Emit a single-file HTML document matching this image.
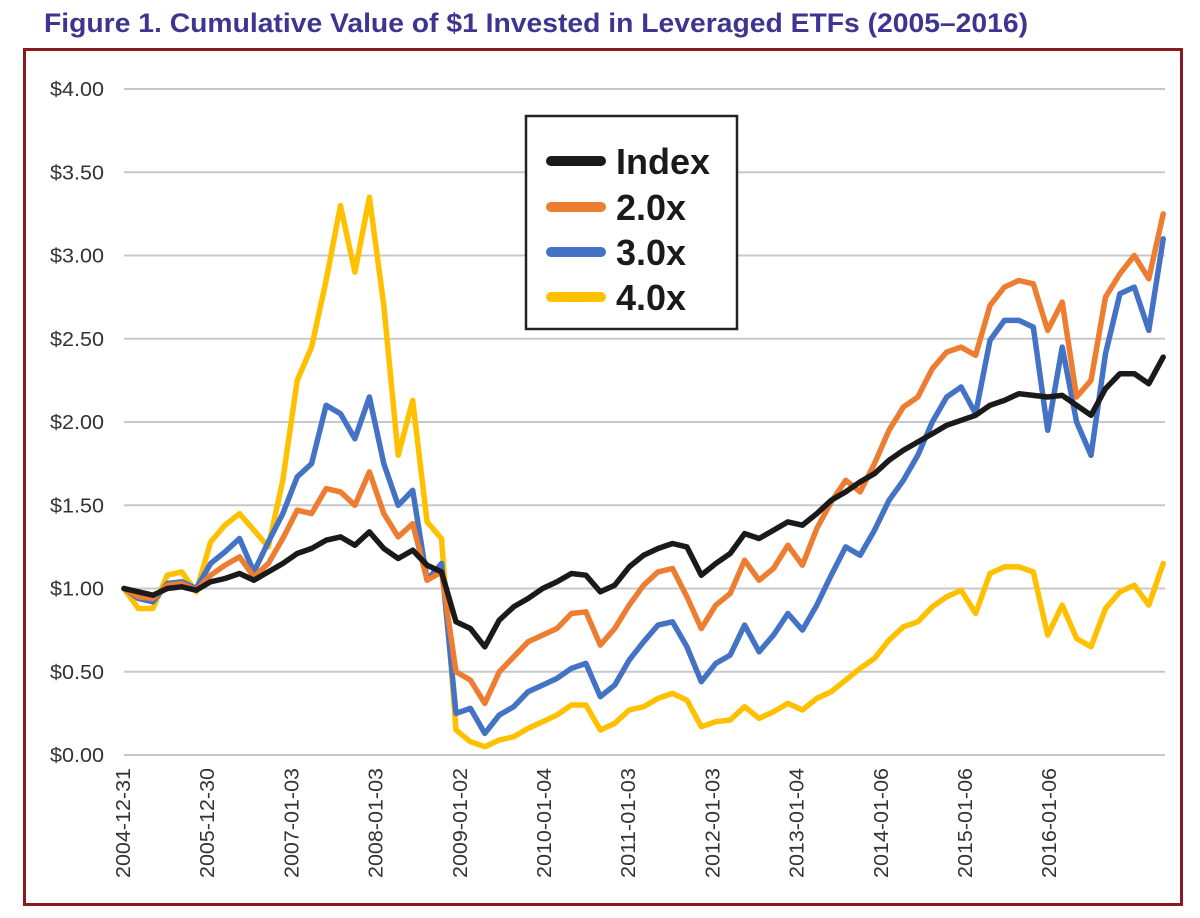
<!DOCTYPE html>
<html><head><meta charset="utf-8"><style>
html,body{margin:0;padding:0;background:#fff;}
svg{display:block;}
</style></head><body>
<svg id="chart" width="1200" height="918" viewBox="0 0 1200 918" xmlns="http://www.w3.org/2000/svg">
<text x="44" y="32" font-family="Liberation Sans Narrow, Liberation Sans, sans-serif" font-weight="bold" font-size="27" fill="#3d3590" textLength="984" lengthAdjust="spacingAndGlyphs">Figure 1. Cumulative Value of $1 Invested in Leveraged ETFs (2005–2016)</text>
<rect x="24.5" y="49.5" width="1157" height="855" fill="none" stroke="#8b1a1f" stroke-width="3"/>
<g id="grid"></g><g id="yticks"></g><g id="xticks"></g><g id="series"></g>
<g>
<rect x="526" y="116" width="211" height="213" fill="#fff" stroke="#222" stroke-width="2.5"/>
<g><line x1="551" y1="161" x2="601" y2="161" stroke="#1a1a1a" stroke-width="10" stroke-linecap="round"/><text x="616" y="174" font-family="Liberation Sans, sans-serif" font-weight="bold" font-size="36" fill="#1a1a1a">Index</text></g>
<g><line x1="551" y1="207" x2="601" y2="207" stroke="#ed7d31" stroke-width="10" stroke-linecap="round"/><text x="616" y="220" font-family="Liberation Sans, sans-serif" font-weight="bold" font-size="36" fill="#1a1a1a">2.0x</text></g>
<g><line x1="551" y1="252" x2="601" y2="252" stroke="#4472c4" stroke-width="10" stroke-linecap="round"/><text x="616" y="265" font-family="Liberation Sans, sans-serif" font-weight="bold" font-size="36" fill="#1a1a1a">3.0x</text></g>
<g><line x1="551" y1="297" x2="601" y2="297" stroke="#ffc000" stroke-width="10" stroke-linecap="round"/><text x="616" y="310" font-family="Liberation Sans, sans-serif" font-weight="bold" font-size="36" fill="#1a1a1a">4.0x</text></g>
</g>
</svg>
<script>
const startYear = 2005;
const stepYears = 1/6;
const yTicks = [0, 0.5, 1, 1.5, 2, 2.5, 3, 3.5, 4];
const yTickLabels = ["$0.00","$0.50","$1.00","$1.50","$2.00","$2.50","$3.00","$3.50","$4.00"];
const xTickLabels = ["2004-12-31","2005-12-30","2007-01-03","2008-01-03","2009-01-02","2010-01-04","2011-01-03","2012-01-03","2013-01-04","2014-01-06","2015-01-06","2016-01-06"];
const xTickYears = [2005.0,2006.0,2007.0,2008.0,2009.0,2010.0,2011.0,2012.0,2013.0,2014.0,2015.0,2016.0];
const indexValues = [1.00,0.98,0.96,1.00,1.01,0.99,1.04,1.06,1.09,1.05,1.10,1.15,1.21,1.24,1.29,1.31,1.26,1.34,1.24,1.18,1.23,1.14,1.10,0.80,0.76,0.65,0.81,0.89,0.94,1.00,1.04,1.09,1.08,0.98,1.02,1.13,1.20,1.24,1.27,1.25,1.08,1.15,1.21,1.33,1.30,1.35,1.40,1.38,1.45,1.53,1.58,1.64,1.69,1.77,1.83,1.88,1.93,1.98,2.01,2.04,2.10,2.13,2.17,2.16,2.15,2.16,2.10,2.04,2.20,2.29,2.29,2.23,2.39];
const lev2Values = [1.00,0.95,0.94,1.02,1.03,0.99,1.08,1.14,1.19,1.07,1.15,1.30,1.47,1.45,1.60,1.58,1.50,1.70,1.45,1.31,1.39,1.05,1.10,0.50,0.45,0.31,0.50,0.59,0.68,0.72,0.76,0.85,0.86,0.66,0.76,0.90,1.02,1.10,1.12,0.95,0.76,0.90,0.97,1.17,1.05,1.12,1.26,1.14,1.36,1.52,1.65,1.58,1.75,1.95,2.09,2.15,2.32,2.42,2.45,2.40,2.70,2.81,2.85,2.83,2.55,2.72,2.15,2.25,2.75,2.89,3.00,2.86,3.25];
const lev3Values = [1.00,0.94,0.92,1.03,1.04,1.00,1.15,1.22,1.30,1.10,1.28,1.45,1.67,1.75,2.10,2.05,1.90,2.15,1.75,1.50,1.59,1.05,1.15,0.25,0.28,0.13,0.24,0.29,0.38,0.42,0.46,0.52,0.55,0.35,0.42,0.57,0.68,0.78,0.80,0.65,0.44,0.55,0.60,0.78,0.62,0.72,0.85,0.75,0.90,1.08,1.25,1.20,1.35,1.53,1.65,1.80,2.00,2.15,2.21,2.05,2.49,2.61,2.61,2.57,1.95,2.45,2.00,1.80,2.41,2.77,2.81,2.55,3.10];
const lev4Values = [1.00,0.88,0.88,1.08,1.10,0.98,1.28,1.38,1.45,1.35,1.25,1.65,2.25,2.45,2.85,3.30,2.90,3.35,2.70,1.80,2.13,1.40,1.30,0.15,0.08,0.05,0.09,0.11,0.16,0.20,0.24,0.30,0.30,0.15,0.19,0.27,0.29,0.34,0.37,0.33,0.17,0.20,0.21,0.29,0.22,0.26,0.31,0.27,0.34,0.38,0.45,0.52,0.58,0.69,0.77,0.80,0.89,0.95,0.99,0.85,1.09,1.13,1.13,1.10,0.72,0.90,0.70,0.65,0.88,0.98,1.02,0.90,1.15];

const NS = "http://www.w3.org/2000/svg";
const plotLeft = 124, plotRight = 1165;
function yScale(v){ return 755 - v * 166.5; }
function xScale(t){ return 124 + (t - startYear) * 86.6; }
function mk(tag, attrs, parent){ const e = document.createElementNS(NS, tag); for (const k in attrs) e.setAttribute(k, attrs[k]); parent.appendChild(e); return e; }

const grid = document.getElementById('grid');
const yt = document.getElementById('yticks');
yTicks.forEach((v, i) => {
  const ln = mk('line', {x1: plotLeft, x2: plotRight, y1: yScale(v), y2: yScale(v), stroke: '#c8c8c8', 'stroke-width': 2}, grid);
  
  
  const tx = mk('text', {x: 104, y: yScale(v) + 7, 'text-anchor': 'end', 'font-family': 'Liberation Sans Narrow, Liberation Sans, sans-serif', 'font-size': 20, fill: '#333', textLength: 54, lengthAdjust: 'spacingAndGlyphs'}, yt);
  tx.textContent = yTickLabels[i];
  
  
});
const xt = document.getElementById('xticks');
xTickLabels.forEach((lab, i) => {
  const x = 124 + (xTickYears[i] - 2005) * 84.2 + 6;
  const tx = mk('text', {x: 0, y: 0, 'text-anchor': 'end', transform: 'translate(' + x + ',768) rotate(-90)', 'font-family': 'Liberation Sans Narrow, Liberation Sans, sans-serif', 'font-size': 20, fill: '#333', textLength: 110, lengthAdjust: 'spacingAndGlyphs'}, xt);
  tx.textContent = lab;
  
  
});
const series = document.getElementById('series');
const defs = [
  {vals: lev4Values, color: '#ffc000', name: 'series-4x-line'},
  {vals: lev3Values, color: '#4472c4', name: 'series-3x-line'},
  {vals: lev2Values, color: '#ed7d31', name: 'series-2x-line'},
  {vals: indexValues, color: '#1a1a1a', name: 'series-index-line'}
];
defs.forEach(d => {
  const pts = d.vals.map((v, i) => xScale(startYear + i * stepYears).toFixed(1) + ',' + yScale(v).toFixed(1)).join(' ');
  const pl = mk('polyline', {points: pts, fill: 'none', stroke: d.color, 'stroke-width': 5.5, 'stroke-linejoin': 'round', 'stroke-linecap': 'round'}, series);
  
  
});
</script>
</body></html>
